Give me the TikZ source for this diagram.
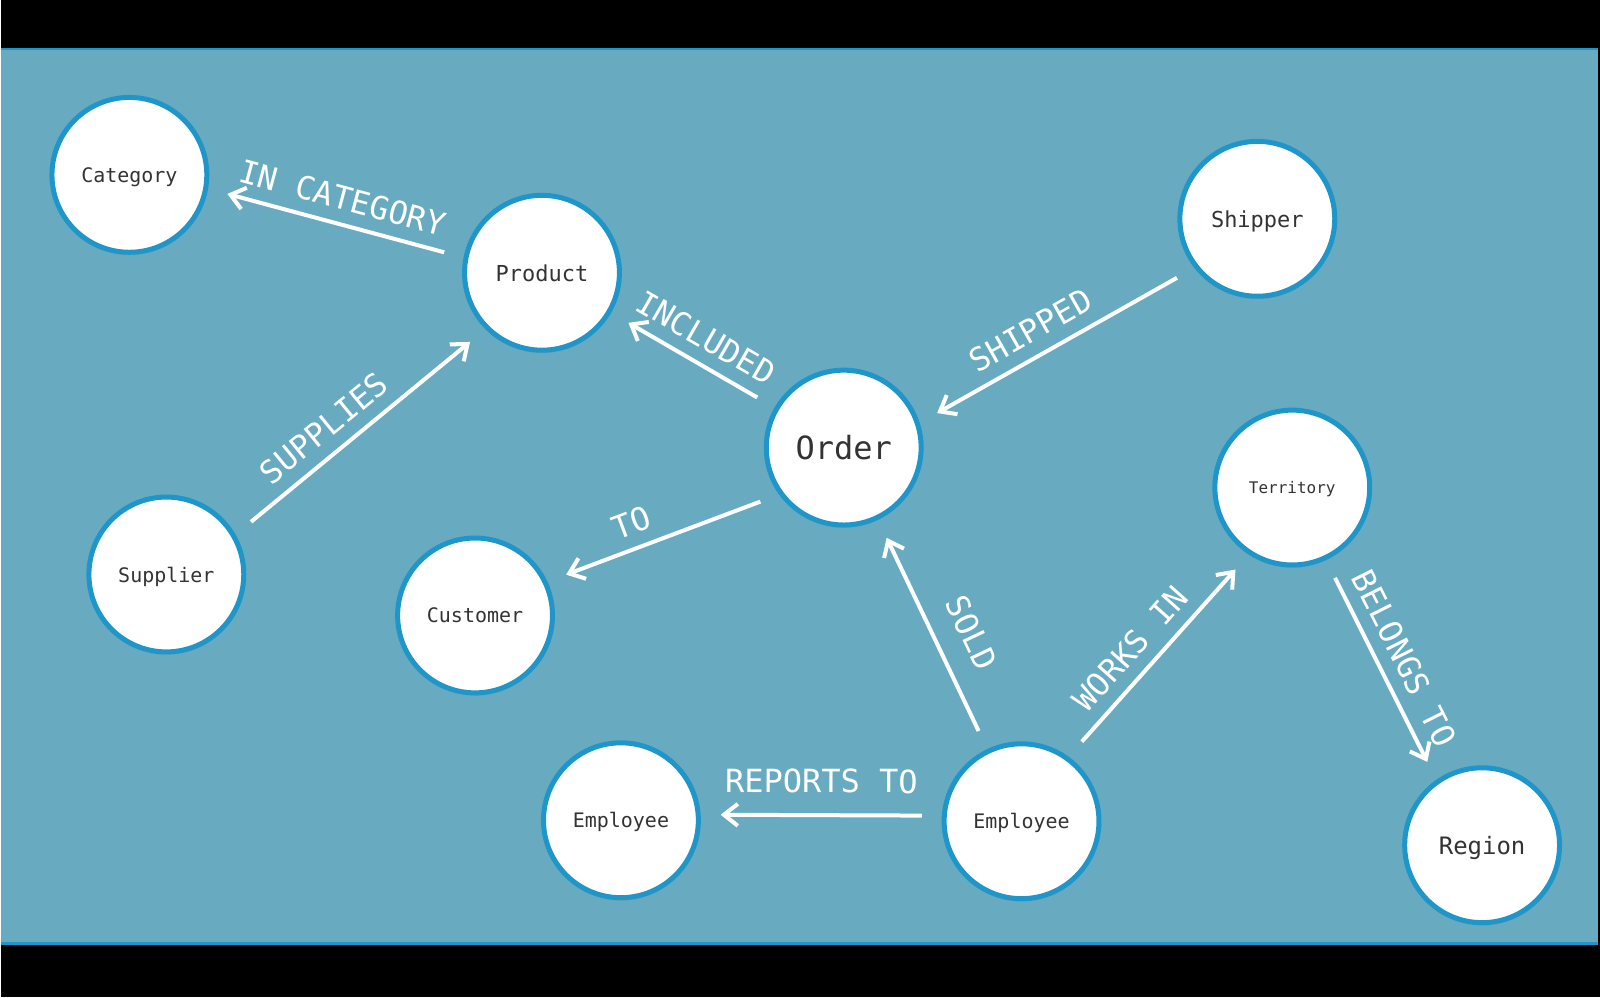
\documentclass[tikz,border=0pt]{standalone}
\usepackage{fontspec}
\setmonofont{DejaVu Sans Mono}
\usetikzlibrary{arrows.meta, shadows}
\definecolor{panel}{HTML}{68AABF}
\definecolor{rim}{HTML}{1E96CA}
\definecolor{ink}{HTML}{333333}

\begin{document}
\begin{tikzpicture}[
    x = 0.5pt, y = -0.5pt,
    entity/.style = {circle, draw = rim, line width = 2.5pt, fill = white, minimum size = 77.5pt, inner sep = 0pt, text depth = 0pt, text = ink, font = \ttfamily\fontsize{10}{12}\selectfont, drop shadow = {opacity = 0.25, shadow xshift = 0pt, shadow yshift = -1.5pt}},
    relation/.style = {draw = white, line width = 2pt, -{Straight Barb[length = 7pt, width = 11pt]}, shorten < = 10pt, shorten > = 10pt},
    tag/.style = {text = white, font = \ttfamily\fontsize{16}{18}\selectfont, sloped, above, inner sep = 6pt}
  ]
    \fill (0, 0) rectangle (1600, 998);
    \fill[panel] (0, 49) rectangle (1598, 945);
    \draw[rim, line width = 1pt] (0, 49) -- (1598, 49);
    \draw[rim, line width = 1.5pt] (0, 944) -- (1598, 944);
    \useasboundingbox (0, 0) rectangle (1600, 998);

    \node[entity] (category) at (128, 175) {Category};
    \node[entity, font = \ttfamily\fontsize{11}{13}\selectfont] (product) at (541, 273) {Product};
    \node[entity, font = \ttfamily\fontsize{11}{13}\selectfont] (shipper) at (1257, 219) {Shipper};
    \node[entity, font = \ttfamily\fontsize{16}{19}\selectfont] (order) at (843, 448) {Order};
    \node[entity, font = \ttfamily\fontsize{8}{10}\selectfont] (territory) at (1292, 488) {Territory};
    \node[entity] (supplier) at (165, 575) {Supplier};
    \node[entity] (customer) at (474, 616) {Customer};
    \node[entity] (manager) at (620, 821) {Employee};
    \node[entity] (employee) at (1021, 822) {Employee};
    \node[entity, font = \ttfamily\fontsize{12}{14}\selectfont] (region) at (1482, 846) {Region};

    \draw[relation] (product.169) -- node[tag] {IN CATEGORY} (category.350);
    \draw[relation] (order) -- node[tag] {INCLUDED} (product);
    \draw[relation] (shipper.218) -- node[tag, pos = 0.55] {SHIPPED} (order.18);
    \draw[relation] (supplier.30) -- node[tag, pos = 0.42] {SUPPLIES} (product.225);
    \draw[relation] (order.216) -- node[tag, pos = 0.6] {TO} (customer.25);
    \draw[relation] (employee) -- node[tag, pos = 0.44, above = 5pt] {SOLD} (order);
    \draw[relation] (employee.54) -- node[tag, pos = 0.45] {WORKS IN} (territory.237);
    \draw[relation] (territory.295) -- node[tag] {BELONGS TO} (region.125);
    \draw[relation] (employee.176) -- node[tag, above = 4pt] {REPORTS TO} (manager.4);
  \end{tikzpicture}
\end{document}
